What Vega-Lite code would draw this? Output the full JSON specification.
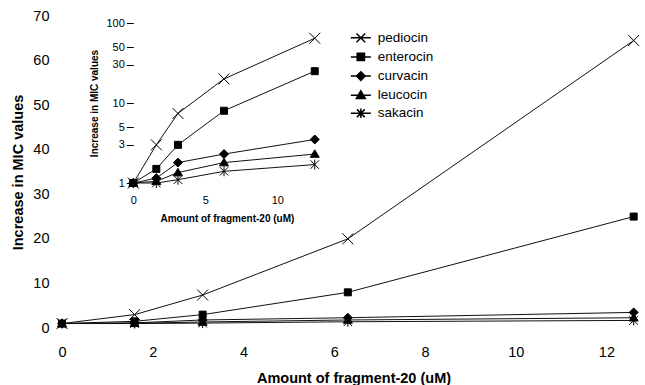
{
  "$schema": "https://vega.github.io/schema/vega-lite/v6.json",
  "width": 583,
  "height": 312,
  "autosize": {"type": "none"},
  "padding": {"left": 62, "top": 16, "right": 0, "bottom": 57},
  "background": "white",
  "config": {
    "font": "Liberation Sans",
    "view": {"stroke": null},
    "axis": {"labelColor": "#000", "titleColor": "#000", "grid": false, "domain": false, "labelFlush": false}
  },
  "data": {
    "values": [
      {"series": "sakacin", "conc": 0, "mic": 1},
      {"series": "sakacin", "conc": 1.6, "mic": 1.0},
      {"series": "sakacin", "conc": 3.1, "mic": 1.1},
      {"series": "sakacin", "conc": 6.3, "mic": 1.4},
      {"series": "sakacin", "conc": 12.6, "mic": 1.7},
      {"series": "leucocin", "conc": 0, "mic": 1},
      {"series": "leucocin", "conc": 1.6, "mic": 1.05},
      {"series": "leucocin", "conc": 3.1, "mic": 1.35},
      {"series": "leucocin", "conc": 6.3, "mic": 1.8},
      {"series": "leucocin", "conc": 12.6, "mic": 2.3},
      {"series": "curvacin", "conc": 0, "mic": 1},
      {"series": "curvacin", "conc": 1.6, "mic": 1.15},
      {"series": "curvacin", "conc": 3.1, "mic": 1.8},
      {"series": "curvacin", "conc": 6.3, "mic": 2.3},
      {"series": "curvacin", "conc": 12.6, "mic": 3.5},
      {"series": "pediocin", "conc": 0, "mic": 1},
      {"series": "pediocin", "conc": 1.6, "mic": 3},
      {"series": "pediocin", "conc": 3.1, "mic": 7.4},
      {"series": "pediocin", "conc": 6.3, "mic": 20},
      {"series": "pediocin", "conc": 12.6, "mic": 64.5},
      {"series": "enterocin", "conc": 0, "mic": 1},
      {"series": "enterocin", "conc": 1.6, "mic": 1.5},
      {"series": "enterocin", "conc": 3.1, "mic": 3},
      {"series": "enterocin", "conc": 6.3, "mic": 8},
      {"series": "enterocin", "conc": 12.6, "mic": 25}
    ]
  },
  "resolve": {"scale": {"x": "independent", "y": "independent", "shape": "independent"}},
  "layer": [
    {
      "resolve": {"scale": {"shape": "independent"}},
      "layer": [
        {
          "mark": {"type": "line", "color": "#111", "strokeWidth": 1},
          "encoding": {
            "x": {"field": "conc", "type": "quantitative", "scale": {"domain": [0, 12.85], "nice": false, "zero": false},
              "axis": {"values": [0, 2, 4, 6, 8, 10, 12], "ticks": false, "tickSize": 0, "labelPadding": 17, "labelFontSize": 14.5,
                "title": "Amount of fragment-20 (uM)", "titleFontSize": 14.5, "titleFontWeight": "bold", "titleBaseline": "alphabetic", "titleY": 54}},
            "y": {"field": "mic", "type": "quantitative", "scale": {"domain": [0, 70], "nice": false},
              "axis": {"values": [0, 10, 20, 30, 40, 50, 60, 70], "ticks": false, "tickSize": 0, "labelPadding": 13, "labelFontSize": 14.5,
                "title": "Increase in MIC values", "titleFontSize": 14.5, "titleFontWeight": "bold", "titleBaseline": "alphabetic", "titleX": -40, "titleY": 156, "titleAngle": 270}},
            "detail": {"field": "series"}
          }
        },
        {
          "mark": {"type": "point", "filled": true, "fill": "#000", "stroke": "#000", "strokeWidth": 1, "size": 100, "opacity": 1},
          "encoding": {
            "x": {"field": "conc", "type": "quantitative"},
            "y": {"field": "mic", "type": "quantitative"},
            "shape": {"field": "series", "type": "nominal", "legend": null,
              "scale": {"domain": ["pediocin", "enterocin", "curvacin", "leucocin", "sakacin"],
                "range": ["M-1.1,-1.1L1.1,1.1M-1.1,1.1L1.1,-1.1", "M-0.7,-0.7H0.7V0.7H-0.7Z", "M0,-0.9L0.9,0L0,0.9L-0.9,0Z", "M0,-0.85L0.9,0.65H-0.9Z", "M-0.85,-0.85L0.85,0.85M-0.85,0.85L0.85,-0.85M0,-1L0,1"]}}
          }
        },
        {
          "transform": [{"filter": "false"}],
          "mark": {"type": "point", "filled": true, "fill": "#000", "stroke": "#000", "strokeWidth": 1, "opacity": 1},
          "encoding": {
            "shape": {"field": "series", "type": "nominal",
              "scale": {"domain": ["pediocin", "enterocin", "curvacin", "leucocin", "sakacin"],
                "range": ["M-1.155,0H1.155M-0.5,-0.5L0.5,0.5M-0.5,0.5L0.5,-0.5", "M-1.155,0H1.155M-0.42,-0.42H0.42V0.42H-0.42Z", "M-1.155,0H1.155M0,-0.5L0.5,0L0,0.5L-0.5,0Z", "M-1.155,0H1.155M0,-0.5L0.52,0.38H-0.52Z", "M-1.155,0H1.155M-0.45,-0.45L0.45,0.45M-0.45,0.45L0.45,-0.45M0,-0.55L0,0.55"]},
              "legend": {"orient": "none", "legendX": 289.35, "legendY": 12.35, "title": null, "labelFontSize": 13.5, "labelColor": "#000",
                "symbolSize": 300, "rowPadding": 2.1, "labelOffset": 7.35, "padding": 0,
                "encode": {"symbols": {"update": {"fill": {"value": "#000"}, "stroke": {"value": "#000"}, "strokeWidth": {"value": 1}, "opacity": {"value": 1}}}}}
            }
          }
        }
      ]
    },
    {
      "layer": [
        {
          "mark": {"type": "line", "color": "#111", "strokeWidth": 1},
          "encoding": {
            "x": {"field": "conc", "type": "quantitative", "scale": {"domain": [0, 13], "range": [71.3, 258.5], "nice": false, "zero": false},
              "axis": {"orient": "bottom", "offset": -145, "values": [0, 5, 10], "ticks": false, "tickSize": 0, "labelPadding": 11, "labelFontSize": 11,
                "title": "Amount of fragment-20 (uM)", "titleFontSize": 10, "titleFontWeight": "bold", "titleBaseline": "alphabetic", "titleY": 38.6}},
            "y": {"field": "mic", "type": "quantitative", "scale": {"type": "log", "domain": [1, 100], "range": [167, 7], "nice": false},
              "axis": {"orient": "left", "offset": -71.3, "values": [1, 3, 5, 10, 30, 50, 100], "format": "d", "ticks": true, "tickSize": 7, "tickColor": "#000", "tickWidth": 1, "labelPadding": 2, "labelFontSize": 11,
                "title": "Increase in MIC values", "titleFontSize": 10, "titleFontWeight": "bold", "titleBaseline": "alphabetic", "titleX": -35.7, "titleY": 87, "titleAngle": 270}},
            "detail": {"field": "series"}
          }
        },
        {
          "mark": {"type": "point", "filled": true, "fill": "#000", "stroke": "#000", "strokeWidth": 1, "size": 100, "opacity": 1},
          "encoding": {
            "x": {"field": "conc", "type": "quantitative"},
            "y": {"field": "mic", "type": "quantitative"},
            "shape": {"field": "series", "type": "nominal", "legend": null,
              "scale": {"domain": ["pediocin", "enterocin", "curvacin", "leucocin", "sakacin"],
                "range": ["M-1.1,-1.1L1.1,1.1M-1.1,1.1L1.1,-1.1", "M-0.7,-0.7H0.7V0.7H-0.7Z", "M0,-0.9L0.9,0L0,0.9L-0.9,0Z", "M0,-0.85L0.9,0.65H-0.9Z", "M-0.85,-0.85L0.85,0.85M-0.85,0.85L0.85,-0.85M0,-1L0,1"]}}
          }
        }
      ]
    }
  ]
}
